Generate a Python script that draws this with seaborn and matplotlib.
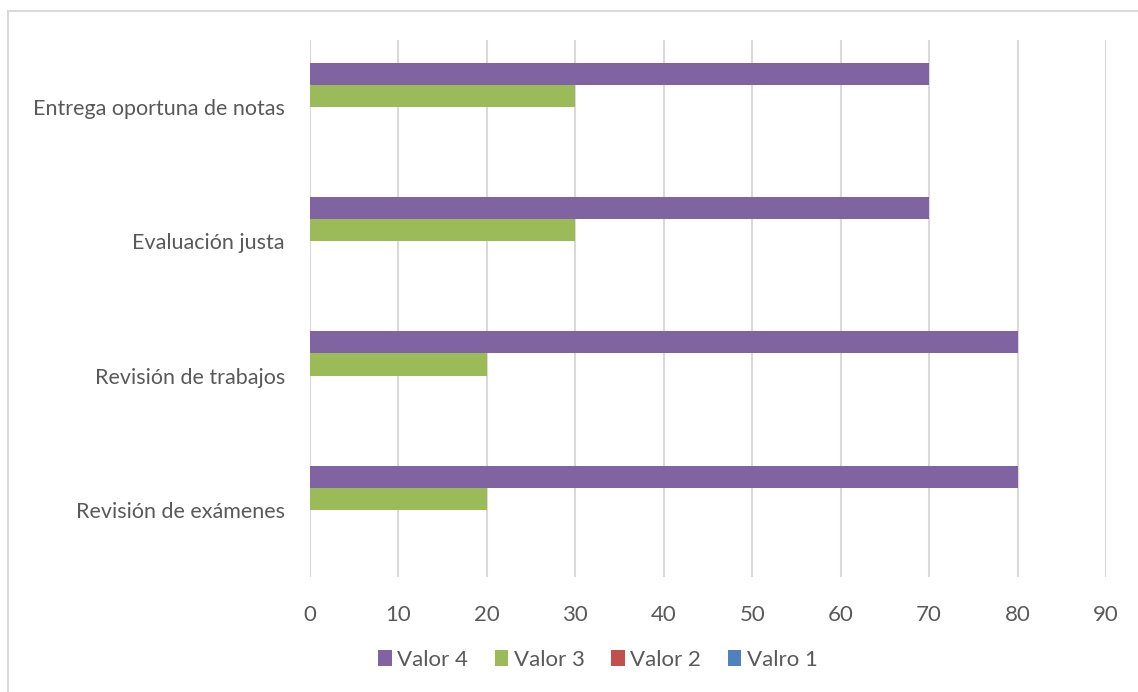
import pandas as pd
import seaborn as sns
import matplotlib.pyplot as plt
from matplotlib.patches import Rectangle

# data
categorias = ["Entrega oportuna de notas", "Evaluación justa",
              "Revisión de trabajos", "Revisión de exámenes"]
series = ["Valor 4", "Valor 3", "Valor 2", "Valro 1"]
valor4 = [70, 70, 80, 80]
valor3 = [30, 30, 20, 20]
valor2 = [0, 0, 0, 0]
valro1 = [0, 0, 0, 0]
colores = ["#8064A2", "#9BBB59", "#C0504D", "#4F81BD"]

df = pd.DataFrame({
    "categoria": categorias * 4,
    "serie": sum([[s] * 4 for s in series], []),
    "valor": valor4 + valor3 + valor2 + valro1,
})

sns.set_style("white")
plt.rcParams["font.family"] = ["Lato", "DejaVu Sans"]

fig = plt.figure(figsize=(11.38, 6.92), dpi=100)
W, H = 1138, 692
ax = fig.add_axes([310 / W, 1 - 577 / H, (1106 - 310) / W, (577 - 40) / H])

sns.barplot(data=df, y="categoria", x="valor", hue="serie", order=categorias,
            hue_order=series, palette=colores, orient="h", width=0.66,
            ax=ax, saturation=1, linewidth=0, legend=True)

ax.set_xlim(0, 90)
ax.set_xticks(range(0, 91, 10))
ax.set_xlabel("")
ax.set_ylabel("")
ax.grid(axis="x", color="#D9D9D9", linewidth=1.5)
ax.set_axisbelow(True)
for s in ax.spines.values():
    s.set_visible(False)
ax.tick_params(axis="x", length=0, pad=20, labelsize=16, labelcolor="#595959")
ax.tick_params(axis="y", length=0, pad=18, labelsize=15.5, labelcolor="#595959")

handles, labels = ax.get_legend_handles_labels()
ax.legend_.remove()
fig.legend(handles, labels, loc="center", bbox_to_anchor=(598 / W, 1 - 660 / H),
           ncol=4, frameon=False, fontsize=16, handlelength=0.6, handleheight=0.75,
           handletextpad=0.25, columnspacing=1.2, labelcolor="#595959")

# chart frame
fig.patches.append(Rectangle((8 / W, -0.1), 1.2, 1.1 - 11 / H, transform=fig.transFigure,
                             fill=False, edgecolor="#D9D9D9", linewidth=1.5))

fig.savefig("out.png", dpi=100)
